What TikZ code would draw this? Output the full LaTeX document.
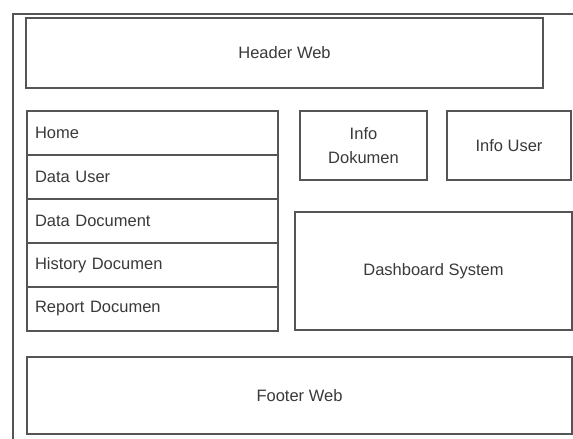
\documentclass[tikz,border=0pt]{standalone}
\usepackage{fontspec}
\setmainfont{Liberation Sans}
\usetikzlibrary{shadows}
\definecolor{linegray}{HTML}{555555}
\definecolor{textgray}{HTML}{3A3A3A}
\tikzset{
  box/.style={draw=linegray, line width=1.4pt, fill=white, anchor=north west,
    outer sep=0pt, inner sep=0pt, align=center, text=textgray,
    font=\fontsize{16.5}{24}\selectfont,
    drop shadow={shadow xshift=0.6pt, shadow yshift=1.2pt, fill=gray!45, opacity=1}},
  menu/.style={box, minimum width=251pt, minimum height=44pt, text width=235pt,
    inner xsep=8pt, align=left},
}
\begin{document}
\begin{tikzpicture}[x=1pt,y=-1pt]
\useasboundingbox[fill=white] (0,0) rectangle (573,439);
% outer frame (partially visible)
\draw[linegray, line width=1.4pt] (13,439) -- (13,14) -- (573,14);
\node[box, minimum width=517pt, minimum height=70pt] (header) at (26,18) {Header Web};
\node[menu] (home) at (27,111) {Home};
\node[menu] (user) at (27,155) {Data User};
\node[menu] (doc) at (27,199) {Data Document};
\node[menu] (hist) at (27,243) {History Documen};
\node[menu] (rep) at (27,287) {Report Documen};
\node[box, minimum width=127pt, minimum height=69pt] (infodok) at (300,111) {Info\\Dokumen};
\node[box, minimum width=124pt, minimum height=69pt] (infouser) at (447,111) {Info User};
\node[box, minimum width=277pt, minimum height=118pt] (dash) at (295,212) {Dashboard System};
\node[box, minimum width=545pt, minimum height=77pt] (footer) at (27,357) {Footer Web};
\end{tikzpicture}
\end{document}
